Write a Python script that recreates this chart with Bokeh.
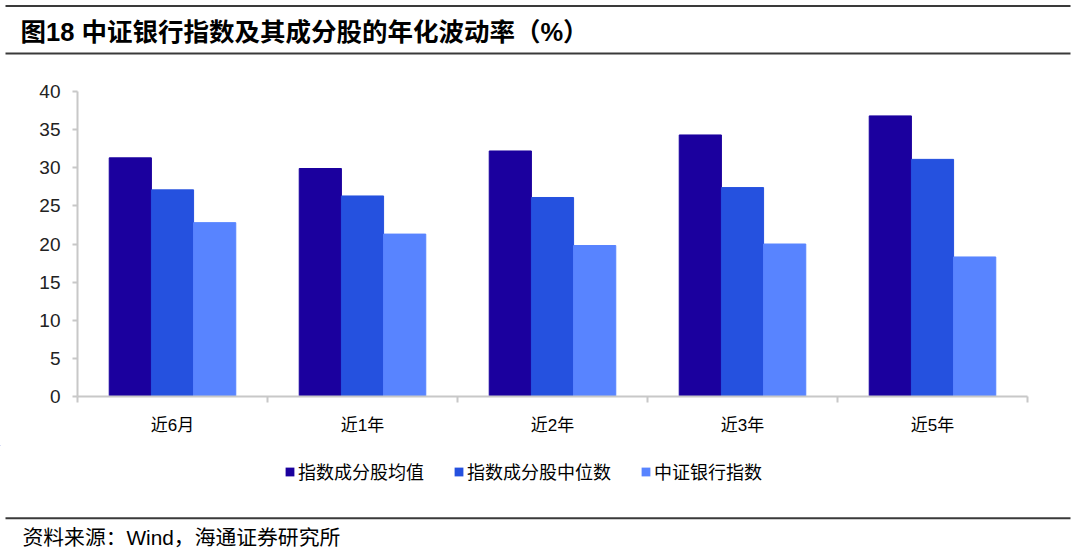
from bokeh.plotting import figure
from bokeh.models import Range1d, FixedTicker, Legend, LegendItem, ColumnDataSource
from bokeh.layouts import column
from bokeh.embed import file_html
from bokeh.resources import INLINE
from bokeh.core.properties import value

# ---------------- data ----------------
categories = ["近6月", "近1年", "近2年", "近3年", "近5年"]
series_names = ["指数成分股均值", "指数成分股中位数", "中证银行指数"]
mean_vals = [31.3, 29.9, 32.2, 34.3, 36.8]
median_vals = [27.1, 26.3, 26.1, 27.4, 31.1]
index_vals = [22.8, 21.3, 19.8, 20.0, 18.3]
y_ticks = [0, 5, 10, 15, 20, 25, 30, 35, 40]
TITLE = "图18 中证银行指数及其成分股的年化波动率（%）"
SOURCE = "资料来源：Wind，海通证券研究所"

colors = ["#1B009E", "#2551DF", "#5884FF"]
FONT = "Liberation Sans, Noto Sans CJK SC"
CJK = "Noto Sans CJK SC"
AX = "#C8C8C8"
W = 1080

# ---------------- title strip ----------------
top = figure(width=W, height=56, x_range=Range1d(0, W), y_range=Range1d(56, 0),
             x_axis_type=None, y_axis_type=None, min_border=0, frame_align=False,
             output_backend="svg", toolbar_location=None)
top.outline_line_color = None
top.grid.visible = False
top.segment(x0=[5, 5], y0=[5.5, 53], x1=[1070, 1070], y1=[5.5, 53],
            line_width=2, line_color="#3a3a3a")
top.text(x=[20], y=[31], text=[TITLE], text_font=value(FONT), text_font_style="bold",
         text_font_size="25.5px", text_baseline="middle", text_color="#000000")

# ---------------- main chart ----------------
p = figure(width=W, height=389, x_range=Range1d(0, len(categories)), y_range=Range1d(0, 40),
           min_border_left=77, min_border_right=53, min_border_top=35, min_border_bottom=49,
           frame_align=False, output_backend="svg", toolbar_location=None)
p.outline_line_color = None
p.grid.visible = False

bw = 0.222
for k, (vals, col) in enumerate(zip([mean_vals, median_vals, index_vals], colors)):
    xs = [i + 0.5 + (k - 1) * bw for i in range(len(categories))]
    src = ColumnDataSource(dict(x=xs, top=vals))
    p.vbar(x="x", top="top", width=bw, source=src, fill_color=col, line_color=col)

xa = p.xaxis[0]
xa.ticker = FixedTicker(ticks=[i + 0.5 for i in range(len(categories))],
                        minor_ticks=list(range(len(categories) + 1)))
xa.major_label_overrides = {i + 0.5: c for i, c in enumerate(categories)}
xa.major_tick_line_color = None
xa.major_tick_out = 0
xa.major_tick_in = 0
xa.minor_tick_out = 6
xa.minor_tick_in = 0
xa.minor_tick_line_color = AX
xa.minor_tick_line_width = 2
xa.axis_line_color = AX
xa.axis_line_width = 2
xa.major_label_standoff = 13
xa.major_label_text_font = FONT
xa.major_label_text_font_size = "17px"
xa.major_label_text_color = "#000000"

ya = p.yaxis[0]
ya.ticker = FixedTicker(ticks=y_ticks)
ya.major_tick_out = 5
ya.major_tick_in = 0
ya.minor_tick_line_color = None
ya.major_tick_line_color = AX
ya.major_tick_line_width = 2
ya.axis_line_color = AX
ya.axis_line_width = 2
ya.major_label_standoff = 12
ya.major_label_text_font = FONT
ya.major_label_text_font_size = "19px"
ya.major_label_text_color = "#222222"

# ---------------- legend + source strip ----------------
BH = 111
bot = figure(width=W, height=BH, x_range=Range1d(0, W), y_range=Range1d(BH, 0),
             x_axis_type=None, y_axis_type=None, min_border=0, frame_align=False,
             output_backend="svg", toolbar_location=None)
bot.outline_line_color = None
bot.grid.visible = False
# legend swatches: off-screen single-point proxies carrying the series colours
legend_renderers = []
for col in colors:
    legend_renderers.append(
        bot.vbar(x=[-500], top=[-60], bottom=[-50], width=1, fill_color=col, line_color=None))
legend = Legend(items=[LegendItem(label=n, renderers=[r]) for n, r in zip(series_names, legend_renderers)],
                location=(284, 72), orientation="horizontal",
                glyph_width=11, glyph_height=11, label_standoff=3, spacing=29,
                padding=0, margin=0, border_line_color=None, background_fill_alpha=0,
                label_text_font=CJK, label_text_font_size="18px", label_height=20,
                label_text_color="#000000")
bot.add_layout(legend)
bot.segment(x0=[5], y0=[72.7], x1=[1070], y1=[72.7], line_width=2, line_color="#3a3a3a")
bot.text(x=[22], y=[92], text=[SOURCE], text_font=value(FONT),
         text_font_size="20.8px", text_baseline="middle", text_color="#000000")

layout = column(top, p, bot, spacing=0)
open("out.html", "w").write(file_html(layout, INLINE))
